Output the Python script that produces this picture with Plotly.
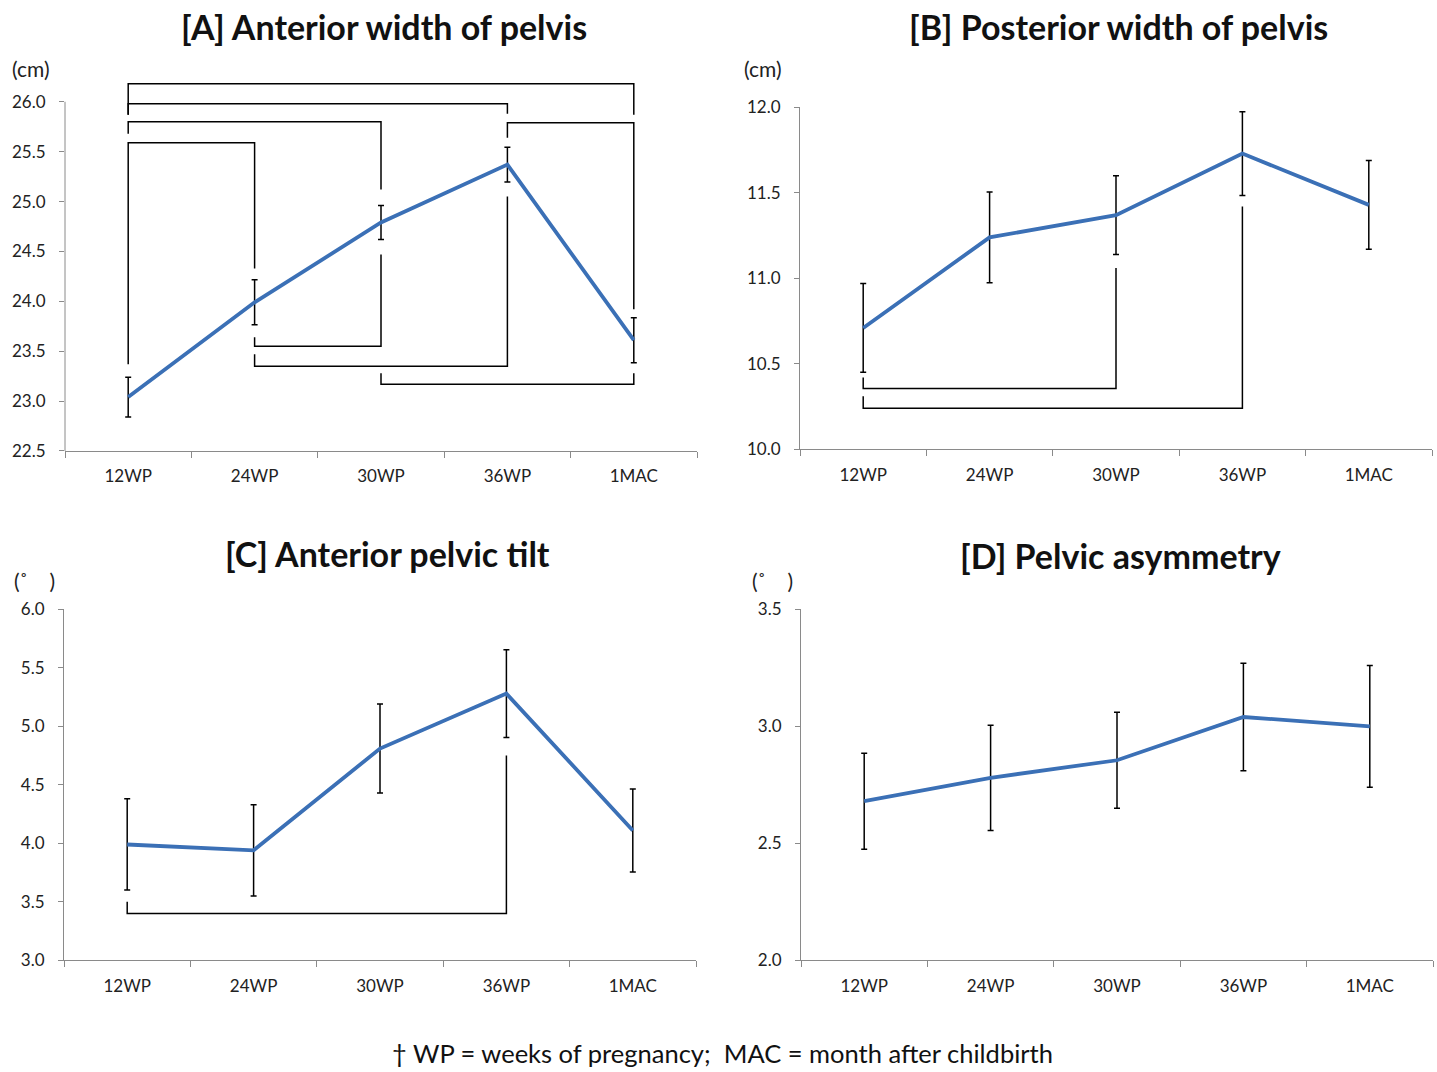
import plotly.graph_objects as go

W, H = 1437, 1072

categories = ["12WP", "24WP", "30WP", "36WP", "1MAC"]

# Panel A: Anterior width of pelvis (cm)
a_mean = [23.04, 23.99, 24.79, 25.37, 23.61]
a_err = [0.20, 0.225, 0.17, 0.175, 0.225]
# Panel B: Posterior width of pelvis (cm)
b_mean = [10.71, 11.24, 11.37, 11.73, 11.43]
b_err = [0.26, 0.265, 0.23, 0.245, 0.26]
# Panel C: Anterior pelvic tilt (deg)
c_mean = [3.99, 3.94, 4.81, 5.28, 4.11]
c_err = [0.39, 0.39, 0.38, 0.375, 0.355]
# Panel D: Pelvic asymmetry (deg)
d_mean = [2.68, 2.78, 2.855, 3.04, 3.00]
d_err = [0.205, 0.225, 0.205, 0.23, 0.26]

# Significance brackets: (from, to, bar level, left leg end, right leg end)
a_brackets = [
    ("12WP", "1MAC", 26.18, 25.87, 25.87),
    ("12WP", "36WP", 25.98, 25.87, 25.88),
    ("12WP", "30WP", 25.80, 25.68, 25.12),
    ("12WP", "24WP", 25.59, 23.37, 24.33),
    ("36WP", "1MAC", 25.79, 25.64, 23.92),
    ("24WP", "30WP", 23.55, 23.64, 24.47),
    ("24WP", "36WP", 23.35, 23.47, 25.05),
    ("30WP", "1MAC", 23.17, 23.28, 23.28),
]
b_brackets = [
    ("12WP", "30WP", 10.355, 10.42, 11.06),
    ("12WP", "36WP", 10.24, 10.31, 11.42),
]
c_brackets = [
    ("12WP", "36WP", 3.40, 3.50, 4.75),
]

a_ticks = [22.5, 23.0, 23.5, 24.0, 24.5, 25.0, 25.5, 26.0]
b_ticks = [10.0, 10.5, 11.0, 11.5, 12.0]
c_ticks = [3.0, 3.5, 4.0, 4.5, 5.0, 5.5, 6.0]
d_ticks = [2.0, 2.5, 3.0, 3.5]

BLUE = "#3B70B6"
GREY = "#8A8A8A"
FONT = "Lato"

fig = go.Figure()

# vertical calibration of the rendered page
SY, OY = 0.9798, 10.3


def X(px):
    return px / W


def Y(px):
    return 1 - ((px - OY) / SY) / H


panels = [
    dict(n="", mean=a_mean, err=a_err, br=a_brackets, ticks=a_ticks,
         yr=[22.5, 26.25], xd=[X(65), X(697)], yd=[Y(450), Y(76.1)], axtop=26.0),
    dict(n="2", mean=b_mean, err=b_err, br=b_brackets, ticks=b_ticks,
         yr=[10.0, 12.0], xd=[X(800), X(1432)], yd=[Y(448.3), Y(106.7)], axtop=None),
    dict(n="3", mean=c_mean, err=c_err, br=c_brackets, ticks=c_ticks,
         yr=[3.0, 6.0], xd=[X(64), X(696)], yd=[Y(959), Y(608.3)], axtop=None),
    dict(n="4", mean=d_mean, err=d_err, br=[], ticks=d_ticks,
         yr=[2.0, 3.5], xd=[X(801), X(1433)], yd=[Y(959), Y(608.3)], axtop=None),
]

layout_axes = {}
shapes = []
for p in panels:
    xa = "x" + p["n"]
    ya = "y" + p["n"]
    for (c0, c1, bar, l0, l1) in p["br"]:
        fig.add_trace(go.Scatter(
            x=[c0, c0, c1, c1], y=[l0, bar, bar, l1], mode="lines",
            line=dict(color="black", width=1.5), xaxis=xa, yaxis=ya,
            showlegend=False, hoverinfo="skip"))
    fig.add_trace(go.Scatter(
        x=categories, y=p["mean"], mode="lines",
        line=dict(color=BLUE, width=3.8),
        error_y=dict(type="data", array=p["err"], visible=True,
                     color="black", thickness=1.5, width=3),
        xaxis=xa, yaxis=ya, showlegend=False))
    layout_axes["xaxis" + p["n"]] = dict(
        domain=p["xd"], anchor=ya, type="category",
        categoryorder="array", categoryarray=categories,
        range=[-0.5, 4.5], tickson="boundaries", ticks="outside",
        ticklen=6, tickcolor=GREY, showline=True, linecolor=GREY,
        linewidth=1, showgrid=False, zeroline=False,
        tickfont=dict(family=FONT, size=17, color="#222"),
        ticklabelstandoff=10)
    ycfg = dict(
        domain=p["yd"], anchor=xa, range=p["yr"], tickvals=p["ticks"],
        ticktext=[f"{t:.1f}" for t in p["ticks"]], ticks="outside",
        ticklen=5, tickcolor=GREY, showgrid=False, zeroline=False,
        showline=p["axtop"] is None, linecolor=GREY, linewidth=1,
        tickfont=dict(family=FONT, size=17, color="#222"),
        ticklabelstandoff=10)
    layout_axes["yaxis" + p["n"]] = ycfg
    if p["axtop"] is not None:
        shapes.append(dict(type="line", xref=xa + " domain", yref=ya,
                           x0=0, x1=0, y0=p["yr"][0], y1=p["axtop"],
                           line=dict(color=GREY, width=1)))

annotations = []
titles = [
    ("[A] Anterior width of pelvis", 384, 26),
    ("[B] Posterior width of pelvis", 1118, 26),
    ("[C] Anterior pelvic tilt", 387, 552),
    ("[D] Pelvic asymmetry", 1120, 554),
]
for t, cx, cy in titles:
    annotations.append(dict(text=f"<b>{t}</b>", x=X(cx), y=Y(cy),
                            xref="paper", yref="paper", showarrow=False,
                            xanchor="center", yanchor="middle",
                            font=dict(family=FONT, size=34, color="#111")))
units = [("(cm)", 10, 68), ("(cm)", 742, 68),
         ("(˚\u00a0\u00a0\u00a0\u00a0)", 12, 579), ("(˚\u00a0\u00a0\u00a0\u00a0)", 750, 579)]
for t, lx, cy in units:
    annotations.append(dict(text=t, x=X(lx), y=Y(cy), xref="paper",
                            yref="paper", showarrow=False, xanchor="left",
                            yanchor="middle",
                            font=dict(family=FONT, size=21, color="#222")))
annotations.append(dict(text="† WP = weeks of pregnancy;  MAC = month after childbirth",
                        x=X(722), y=Y(1052), xref="paper", yref="paper",
                        showarrow=False, xanchor="center", yanchor="middle",
                        font=dict(family=FONT, size=25.5, color="#111")))

fig.update_layout(
    width=W, height=H, margin=dict(l=0, r=0, t=0, b=0),
    paper_bgcolor="white", plot_bgcolor="white",
    annotations=annotations, shapes=shapes, **layout_axes)

fig.write_html("out.html", config={"displayModeBar": False},
               post_script="document.body.style.margin='0px';")
